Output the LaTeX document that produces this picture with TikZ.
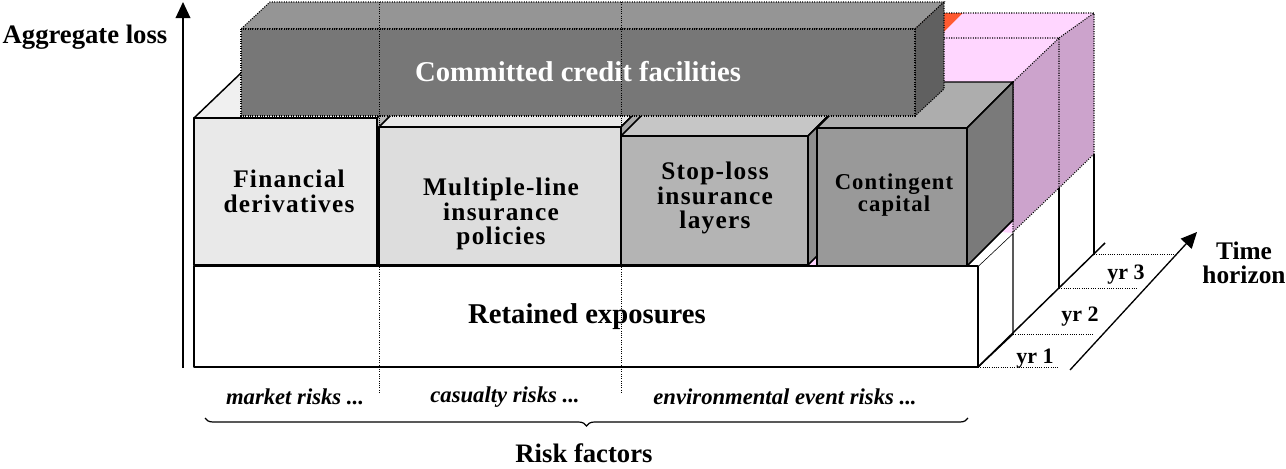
\documentclass[tikz,border=0pt]{standalone}
\usepackage{fontspec}
\setmainfont{Liberation Serif}
\newfontfamily\spacedserif[LetterSpace=5]{Liberation Serif}
\usetikzlibrary{arrows.meta,decorations.pathreplacing}

\definecolor{pinklight}{HTML}{FFD6FF}
\definecolor{pinkdark}{HTML}{CCA3CC}
\definecolor{flame}{HTML}{FF5A30}

% one box: style prefix, front x1 y1 x2 y2, depth dx dy
\newcommand{\cuboid}[7]{%
  \filldraw[#1 top] (#2,#3) -- (#4,#3) -- (#4+#6,#3-#7) -- (#2+#6,#3-#7) -- cycle;
  \filldraw[#1 side] (#4,#3) -- (#4+#6,#3-#7) -- (#4+#6,#5-#7) -- (#4,#5) -- cycle;
  \filldraw[#1 front] (#2,#3) rectangle (#4,#5);
}

\tikzset{
  box/.style={draw=black, line width=1.1pt, line join=round},
  fin front/.style={box, fill={rgb,255:red,233;green,233;blue,233}},
  fin top/.style={box, fill={rgb,255:red,240;green,240;blue,240}},
  fin side/.style={box, fill={rgb,255:red,184;green,184;blue,184}},
  mult front/.style={box, fill={rgb,255:red,221;green,221;blue,221}},
  mult top/.style={box, fill={rgb,255:red,232;green,232;blue,232}},
  mult side/.style={box, fill={rgb,255:red,168;green,168;blue,168}},
  stop front/.style={box, fill={rgb,255:red,180;green,180;blue,180}},
  stop top/.style={box, fill={rgb,255:red,198;green,198;blue,198}},
  stop side/.style={box, fill={rgb,255:red,143;green,143;blue,143}},
  cont front/.style={box, fill={rgb,255:red,153;green,153;blue,153}},
  cont top/.style={box, fill={rgb,255:red,173;green,173;blue,173}},
  cont side/.style={box, fill={rgb,255:red,122;green,122;blue,122}},
  cred/.style={draw=black, line width=0.8pt, densely dotted},
  cred front/.style={cred, fill={rgb,255:red,119;green,119;blue,119}},
  cred top/.style={cred, fill={rgb,255:red,149;green,149;blue,149}},
  cred side/.style={cred, fill={rgb,255:red,96;green,96;blue,96}},
  slab/.style={box, fill=white},
  pinkline/.style={draw=black, line width=0.8pt, densely dotted},
  divider/.style={draw=black, line width=0.7pt, densely dotted},
  tick/.style={draw=black, line width=0.7pt, densely dotted},
  axis/.style={draw=black, line width=1pt, -{Triangle[width=11pt,length=12pt]}},
  lbl/.style={font=\spacedserif\bfseries\fontsize{19}{18.5}\selectfont, align=center},
  risk/.style={font=\bfseries\itshape\fontsize{17}{17}\selectfont},
  yrlbl/.style={font=\bfseries\fontsize{16.5}{16.5}\selectfont, inner sep=0pt},
}

\begin{document}
\begin{tikzpicture}[x=0.75pt, y=-0.75pt]
\useasboundingbox (0,0) rectangle (1286,468);

% layers behind, later years
\fill[flame] (900,13) -- (963,13) -- (938,38) -- (900,38) -- cycle;
\fill[pinklight] (938,38) -- (963,13) -- (1094,13) -- (1059,38) -- cycle;
\fill[pinklight] (900,38) -- (1059,38) -- (1013,82) -- (900,82) -- cycle;
\fill[pinklight] (800,82) rectangle (1013,265);
\fill[pinkdark] (1013,82) -- (1059,38) -- (1059,188) -- (1013,232) -- cycle;
\fill[pinkdark] (1059,38) -- (1094,13) -- (1094,154) -- (1059,188) -- cycle;
\fill[white] (1013,232) -- (1059,188) -- (1094,154) -- (1094,254) -- (1013,334) -- cycle;
\draw[pinkline] (944,13) -- (1094,13) -- (1094,154)
  (944,38) -- (1059,38) -- (1094,13)
  (1013,82) -- (1059,38) -- (1059,188)
  (1013,82) -- (1013,232) -- (1059,188) -- (1094,154);
\draw[box] (1059,188) -- (1059,288) (1094,154) -- (1094,254);

% retained exposures
\filldraw[slab] (978,266) -- (1013,233) -- (1013,334) -- (978,367) -- cycle;
\fill[white] (967,266) -- (978,266) -- (1013,233) -- (1001,232) -- cycle;
\filldraw[slab] (194,266) rectangle (978,367);

% risk transfer boxes
\cuboid{fin}{194}{118}{377}{265}{47}{45}
\cuboid{mult}{379}{127}{621}{265}{46}{46}
\cuboid{stop}{621}{136}{808}{265}{46}{46}
\cuboid{cont}{817}{128}{967}{266}{46}{46}
\cuboid{cred}{241}{29}{915}{116}{29}{27}

% risk dividers
\coordinate (divA top) at (379,2);
\coordinate (divA bot) at (379,393);
\coordinate (divB top) at (621,2);
\coordinate (divB bot) at (621,393);
\draw[divider] (divA top) -- (divA bot);
\draw[divider] (divB top) -- (divB bot);

% axes
\coordinate (loss start) at (183,368);
\coordinate (loss end) at (183,2);
\draw[axis] (loss start) -- (loss end);
\coordinate (time start) at (1070,370);
\coordinate (time end) at (1197,232);
\draw[axis] (time start) -- (time end);
\coordinate (depth start) at (978,367);
\coordinate (depth end) at (1105,243);
\draw[box] (depth start) -- (depth end);
\foreach \x/\y/\l in {978/367/80, 1013/334/80, 1059/288/79, 1094/254/81}
  \draw[tick] (\x,\y) -- ++(\l,0);

% labels
\node[font=\bfseries\fontsize{20}{20}\selectfont] (aggloss) at (85,37) {Aggregate loss};
\node[font=\bfseries\fontsize{21.5}{21.5}\selectfont, text=white] (credit) at (578,72) {Committed credit facilities};
\node[lbl] (findev) at (289,191) {Financial\\derivatives};
\node[lbl] (multline) at (501,214) {Multiple-line\\insurance\\policies};
\node[lbl] (stoploss) at (715,198) {Stop-loss\\insurance\\layers};
\node[lbl, font=\spacedserif\bfseries\fontsize{17}{17}\selectfont] (contcap) at (894,195) {Contingent\\capital};
\node[font=\bfseries\fontsize{21.5}{21.5}\selectfont] (retained) at (587,317) {Retained exposures};
\node[risk] (market) at (295,397) {market risks ...};
\node[risk] (casualty) at (505,397) {casualty risks ...};
\node[risk] (environ) at (785,397) {environmental event risks ...};
\coordinate (brace left) at (205,418);
\coordinate (brace right) at (968,418);
\draw[line width=0.9pt, decorate, decoration={brace, mirror, amplitude=6pt}] (brace left) -- (brace right);
\node[font=\bfseries\fontsize{20}{20}\selectfont] (riskfac) at (584,453) {Risk factors};
\node[lbl, font=\bfseries\fontsize{19}{18}\selectfont] (timehor) at (1244,263) {Time\\horizon};
\node[yrlbl] (yr1) at (1035,359) {yr 1};
\node[yrlbl] (yr2) at (1080,317) {yr 2};
\node[yrlbl] (yr3) at (1126,275) {yr 3};
\end{tikzpicture}
\end{document}
